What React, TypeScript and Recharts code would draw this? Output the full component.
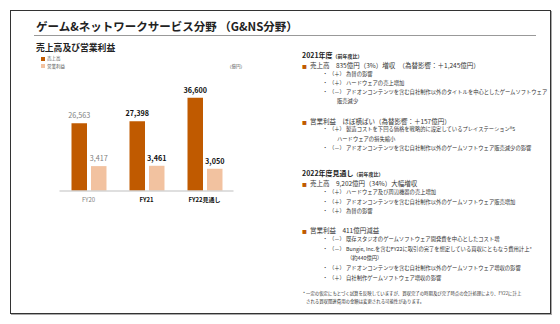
import React from 'react';
import { BarChart, Bar, XAxis, YAxis, LabelList } from 'recharts';

const categories = ['FY20', 'FY21', 'FY22見通し'];
const sales = [26563, 27398, 36600];
const operatingIncome = [3417, 3461, 3050];

const SALES_COLOR = '#C05A00';
const OI_COLOR = '#F2C2A0';
const FONT = '"Noto Sans CJK JP", "Noto Sans", sans-serif';

const data = categories.map((name, i) => ({
  name,
  sales: sales[i],
  oi: operatingIncome[i],
}));

// text helper, y is the vertical centre of the line
const T = ({ x, y, s, b, c = '#333', children }: any) => (
  <div
    style={{
      position: 'absolute',
      left: x,
      top: y - s / 2,
      fontSize: s,
      lineHeight: `${s}px`,
      fontWeight: b ? 700 : 400,
      color: c,
      whiteSpace: 'nowrap',
    }}
  >
    {children}
  </div>
);

const Sq = () => <span style={{ color: SALES_COLOR, fontSize: '0.75em', marginRight: 3 }}>■</span>;

const renderValue = (props: any) => {
  const { x, y, width, value, index } = props;
  const strong = index > 0;
  return (
    <text
      x={x + width / 2}
      y={y - 5}
      textAnchor="middle"
      fontSize={7.2}
      fontFamily={FONT}
      fontWeight={strong ? 700 : 400}
      fill={strong ? '#111' : '#808080'}
    >
      {Number(value).toLocaleString('en-US')}
    </text>
  );
};

const renderTick = (props: any) => {
  const { x, y, payload, index } = props;
  const strong = index > 0;
  return (
    <text
      x={x}
      y={y + 11}
      textAnchor="middle"
      fontSize={6}
      fontFamily={FONT}
      fontWeight={strong ? 700 : 400}
      fill={strong ? '#111' : '#808080'}
    >
      {payload.value}
    </text>
  );
};

const App: React.FC = () => {
  return (
    <div
      style={{
        position: 'absolute',
        left: 0,
        top: 0,
        width: 560,
        height: 324,
        background: '#fff',
        fontFamily: FONT,
        overflow: 'hidden',
      }}
    >
      {/* slide frame */}
      <div
        style={{
          position: 'absolute',
          left: 10,
          top: 10,
          width: 541,
          height: 304,
          boxSizing: 'border-box',
          border: '1px solid #333',
          boxShadow: '1px 1px 0 #aaa',
        }}
      />
      <T x={36} y={27} s={11.5} b c="#222">
        ゲーム&amp;ネットワークサービス分野 （G&amp;NS分野）
      </T>
      <div style={{ position: 'absolute', left: 34, top: 35, width: 502, height: 1, background: '#999' }} />

      {/* left: chart */}
      <T x={36} y={48} s={8.8} b c="#222">売上高及び営業利益</T>
      <div style={{ position: 'absolute', left: 41, top: 56.5, width: 4, height: 4, background: SALES_COLOR }} />
      <T x={47} y={58.5} s={4.5} c="#555">売上高</T>
      <div style={{ position: 'absolute', left: 41, top: 64, width: 4, height: 4, background: OI_COLOR }} />
      <T x={47} y={66} s={4.5} c="#555">営業利益</T>
      <T x={227} y={66} s={4.5} c="#555">（億円）</T>

      <div style={{ position: 'absolute', left: 0, top: 0 }}>
        <BarChart
          width={240}
          height={210}
          data={data}
          margin={{ top: 89, right: 6.5, bottom: 0, left: 59.5 }}
          barCategoryGap={11.5}
          barGap={4}
        >
          <XAxis
            dataKey="name"
            height={19}
            tickLine={false}
            tickSize={0}
            tickMargin={0}
            axisLine={{ stroke: '#d4d4d4', strokeWidth: 1.5 }}
            tick={renderTick}
            interval={0}
          />
          <YAxis yAxisId="s" hide domain={[0, 40000]} />
          <YAxis yAxisId="o" hide domain={[0, 14000]} orientation="right" />
          <Bar yAxisId="s" dataKey="sales" fill={SALES_COLOR} barSize={15.5} isAnimationActive={false}>
            <LabelList dataKey="sales" content={renderValue} />
          </Bar>
          <Bar yAxisId="o" dataKey="oi" fill={OI_COLOR} barSize={15.5} isAnimationActive={false}>
            <LabelList dataKey="oi" content={renderValue} />
          </Bar>
        </BarChart>
      </div>

      {/* right: commentary */}
      <T x={302} y={55} s={7} b c="#222">
        2021年度<span style={{ fontSize: 5 }}>（前年度比）</span>
      </T>
      <T x={302} y={65} s={6.5}><Sq />売上高　835億円（3%）増収　（為替影響：＋1,245億円）</T>
      <T x={322.5} y={74.3} s={5.3}>・ （＋） 為替の影響</T>
      <T x={322.5} y={83.7} s={5.3}>・ （＋） ハードウェアの売上増加</T>
      <T x={322.5} y={92.7} s={5.3}>・ （－） アドオンコンテンツを含む自社制作以外のタイトルを中心としたゲームソフトウェア</T>
      <T x={337} y={102} s={5.3}>販売減少</T>
      <T x={302} y={121} s={6.5}><Sq />営業利益　ほぼ横ばい（為替影響：＋157億円）</T>
      <T x={322.5} y={130} s={5.3}>・ （＋） 製造コストを下回る価格を戦略的に設定しているプレイステーション®5</T>
      <T x={337} y={139.3} s={5.3}>ハードウェアの損失縮小</T>
      <T x={322.5} y={149} s={5.3}>・ （－） アドオンコンテンツを含む自社制作以外のゲームソフトウェア販売減少の影響</T>

      <T x={302} y={173.3} s={7} b c="#222">
        2022年度見通し<span style={{ fontSize: 5 }}>（前年度比）</span>
      </T>
      <T x={302} y={183.3} s={6.5}><Sq />売上高　9,202億円（34%）大幅増収</T>
      <T x={322.5} y={192.7} s={5.3}>・ （＋） ハードウェア及び周辺機器の売上増加</T>
      <T x={322.5} y={202.3} s={5.3}>・ （＋） アドオンコンテンツを含む自社制作以外のゲームソフトウェア販売増加</T>
      <T x={322.5} y={211.7} s={5.3}>・ （＋） 為替の影響</T>
      <T x={302} y={230.7} s={6.5}><Sq />営業利益　411億円減益</T>
      <T x={322.5} y={240} s={5.3}>・ （－） 既存スタジオのゲームソフトウェア開発費を中心としたコスト増</T>
      <T x={322.5} y={250} s={5.3}>・ （－） Bungie, Inc.を含むFY22に取引の完了を想定している買収にともなう費用計上*</T>
      <T x={347} y={259} s={5.3}>（約440億円）</T>
      <T x={322.5} y={268.3} s={5.3}>・ （＋） アドオンコンテンツを含む自社制作以外のゲームソフトウェア増収の影響</T>
      <T x={322.5} y={278.3} s={5.3}>・ （＋） 自社制作ゲームソフトウェア増収の影響</T>
      <T x={303} y={292.7} s={4.4}>* 一定の仮定にもとづく試算を反映していますが、買収完了の時期及び完了時点の会計処理により、FY22に計上</T>
      <T x={306} y={300.7} s={4.4}>される買収関連費用の金額は変更される可能性があります。</T>
    </div>
  );
};

export default App;
